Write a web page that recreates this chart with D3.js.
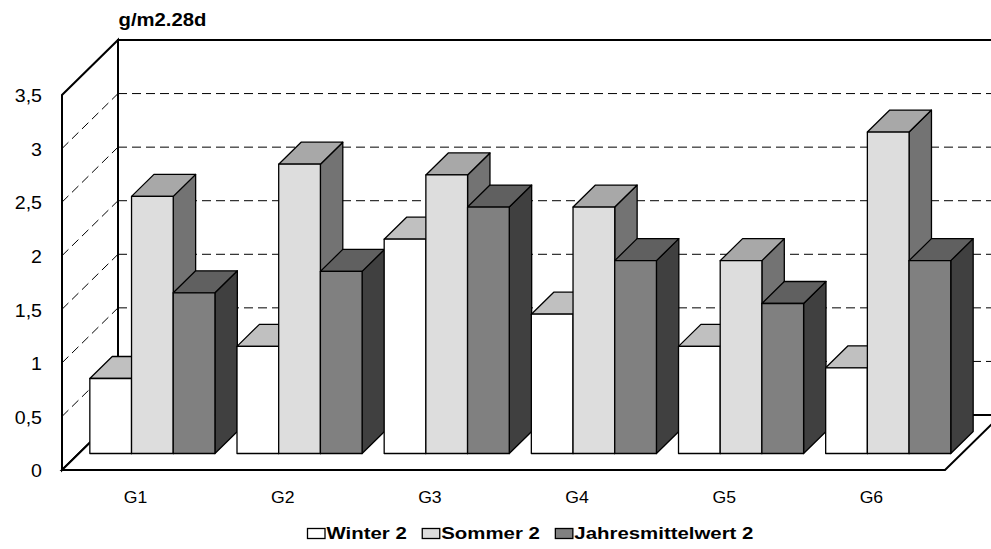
<!DOCTYPE html>
<html>
<head>
<meta charset="utf-8">
<script src="https://cdn.jsdelivr.net/npm/d3@7"></script>
<style>
  html, body { margin: 0; padding: 0; background: #fff; }
  svg { display: block; }
  text { font-family: "Liberation Sans", Arial, sans-serif; fill: #000; }
</style>
</head>
<body>
<svg id="chart" width="991" height="549"></svg>
<script>
// Data
const categories = ["G1", "G2", "G3", "G4", "G5", "G6"];
const seriesNames = ["Winter 2", "Sommer 2", "Jahresmittelwert 2"];
const winter = [0.7, 1.0, 2.0, 1.3, 1.0, 0.8];
const sommer = [2.4, 2.7, 2.6, 2.3, 1.8, 3.0];
const jahresmittel = [1.5, 1.7, 2.3, 1.8, 1.4, 1.8];
const yTicks = [0, 0.5, 1, 1.5, 2, 2.5, 3, 3.5];
const unitLabel = "g/m2.28d";

const seriesValues = [winter, sommer, jahresmittel];

// Shading per series: front, top, side faces
const faceColors = [
  { front: "#ffffff", top: "#c0c0c0", side: "#a0a0a0" },
  { front: "#dddddd", top: "#a8a8a8", side: "#737373" },
  { front: "#808080", top: "#606060", side: "#404040" }
];

const svg = d3.select("#chart");

// Front plane scales, plus an oblique depth offset for the 3D box
const floorLeft = 62, floorRight = 945;
const depthX = 56, depthY = 55;
const y = d3.scaleLinear().domain([0, 3.5]).range([470, 95]);
const x = d3.scaleBand().domain(categories).range([floorLeft, floorRight])
  .paddingInner(0.15).paddingOuter(0.075);
const xs = d3.scaleBand().domain(seriesNames).range([0, x.bandwidth()]);
const barZ0 = 0.3, barZ1 = 0.7;

// project a point (screen x on the front plane, value, depth fraction)
const P = (px, v, z) => [px + z * depthX, y(v) - z * depthY];
const poly = pts => "M" + pts.map(p => p.join(",")).join("L") + "Z";
const fmt = d3.formatLocale({ decimal: ",", thousands: ".", grouping: [3], currency: ["", "€"] }).format("~g");

const yMax = y.domain()[1];

// Walls and floor
svg.append("path")
  .attr("d", poly([P(floorLeft, 0, 0), P(floorLeft, yMax, 0), P(floorLeft, yMax, 1), P(floorLeft, 0, 1)]))
  .attr("fill", "#fff").attr("stroke", "#000").attr("stroke-width", 2);
svg.append("path")
  .attr("d", poly([P(floorLeft, 0, 1), P(floorLeft, yMax, 1), P(floorRight, yMax, 1), P(floorRight, 0, 1)]))
  .attr("fill", "#fff").attr("stroke", "#000").attr("stroke-width", 2);
svg.append("path")
  .attr("d", poly([P(floorLeft, 0, 0), P(floorRight, 0, 0), P(floorRight, 0, 1), P(floorLeft, 0, 1)]))
  .attr("fill", "#fff").attr("stroke", "#000").attr("stroke-width", 2);

// Dashed gridlines on the back and side walls
const gridTicks = yTicks.filter(t => t > 0 && t < yMax);
const grid = svg.append("g").attr("stroke", "#000").attr("stroke-width", 1)
  .attr("stroke-dasharray", "9,5").attr("fill", "none");
gridTicks.forEach(t => {
  const a = P(floorLeft, t, 1), b = P(floorRight, t, 1);
  grid.append("line").attr("x1", a[0]).attr("y1", a[1]).attr("x2", b[0]).attr("y2", b[1]);
  const c = P(floorLeft, t, 0);
  grid.append("line").attr("x1", c[0]).attr("y1", c[1]).attr("x2", a[0]).attr("y2", a[1]);
});

// Value axis labels along the front edge of the side wall
const axisG = svg.append("g");
yTicks.forEach(t => {
  axisG.append("text")
    .attr("transform", `translate(42,${y(t) + 1}) scale(1.12,1)`)
    .attr("text-anchor", "end").attr("dy", "0.36em")
    .style("font-size", "17.5px")
    .text(fmt(t));
});

// Bars, drawn left to right so each one covers its left neighbour's side face
const bars = svg.append("g").attr("stroke", "#000").attr("stroke-width", 1.3)
  .attr("stroke-linejoin", "round");
categories.forEach((cat, i) => {
  seriesNames.forEach((name, j) => {
    const v = seriesValues[j][i];
    const l = x(cat) + xs(name), r = l + xs.bandwidth();
    const c = faceColors[j];
    bars.append("path").attr("fill", c.side)
      .attr("d", poly([P(r, 0, barZ0), P(r, v, barZ0), P(r, v, barZ1), P(r, 0, barZ1)]));
    bars.append("path").attr("fill", c.top)
      .attr("d", poly([P(l, v, barZ0), P(l, v, barZ1), P(r, v, barZ1), P(r, v, barZ0)]));
    bars.append("path").attr("fill", c.front)
      .attr("d", poly([P(l, 0, barZ0), P(l, v, barZ0), P(r, v, barZ0), P(r, 0, barZ0)]));
  });
});

// Category labels
categories.forEach(cat => {
  svg.append("text")
    .attr("transform", `translate(${x(cat) + x.bandwidth() / 2},503) scale(1.07,1)`)
    .attr("text-anchor", "middle")
    .style("font-size", "16.5px")
    .text(cat);
});

// Unit label
svg.append("text")
  .attr("transform", "translate(118.5,26) scale(1.16,1)")
  .style("font-size", "17.5px").style("font-weight", "bold")
  .text(unitLabel);

// Legend
const legend = svg.append("g");
let lx = 307;
const sx = 1.2;
seriesNames.forEach((name, j) => {
  legend.append("rect").attr("x", lx + 0.5).attr("y", 528.5).attr("width", 17.5).attr("height", 10)
    .attr("fill", faceColors[j].front).attr("stroke", "#000").attr("stroke-width", 1.3);
  const t = legend.append("text")
    .attr("transform", `translate(${lx + 19.5},539) scale(${sx},1)`)
    .style("font-size", "17px").style("font-weight", "bold")
    .text(name);
  lx += 19.5 + t.node().getComputedTextLength() * sx + 15;
});
</script>
</body>
</html>
